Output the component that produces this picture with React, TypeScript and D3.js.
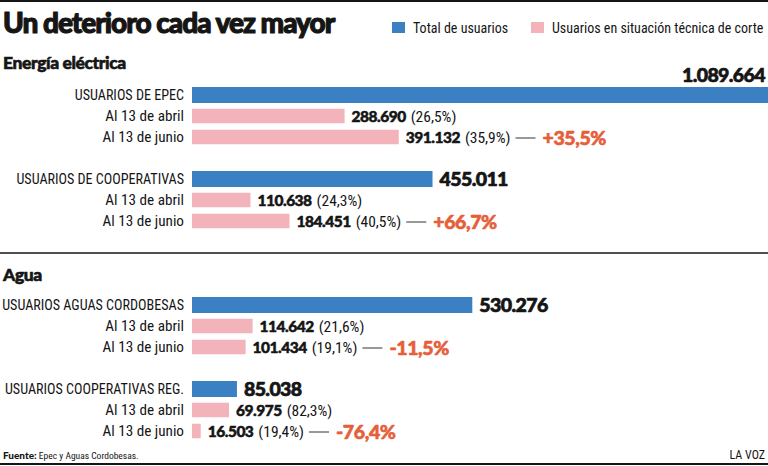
import React, { useEffect, useRef } from "react";
import * as d3 from "d3";

const W = 768;
const H = 466;

const title = "Un deterioro cada vez mayor";
const legendLabels = ["Total de usuarios", "Usuarios en situación técnica de corte"];
const sectionNames = ["Energía eléctrica", "Agua"];
const groupSection = [0, 0, 1, 1];
const groupLabels = [
  "USUARIOS DE EPEC",
  "USUARIOS DE COOPERATIVAS",
  "USUARIOS AGUAS CORDOBESAS",
  "USUARIOS COOPERATIVAS REG.",
];
const dateLabels = ["Al 13 de abril", "Al 13 de junio"];
const totals = [1089664, 455011, 530276, 85038];
const cutApril = [288690, 110638, 114642, 69975];
const cutJune = [391132, 184451, 101434, 16503];
const sourceLabel = "Fuente:";
const sourceText = " Epec y Aguas Cordobesas.";
const brand = "LA VOZ";

const BLUE = "#3b80c3";
const PINK = "#f3b3ba";
const ORANGE = "#e5603a";
const INK = "#151515";

const LABEL_FONT = "'Liberation Sans Narrow', 'Roboto Condensed', Roboto, sans-serif";
const BOLD_FONT = "Lato, 'Open Sans', sans-serif";

const es = d3.formatLocale({ decimal: ",", thousands: ".", grouping: [3], currency: ["$", ""] });
const fmtInt = es.format(",d");
const fmtPct = es.format(".1f");

export default function App() {
  const ref = useRef<SVGSVGElement | null>(null);

  useEffect(() => {
    const svg = d3.select(ref.current);
    svg.selectAll("*").remove();

    svg.append("rect").attr("width", W).attr("height", H).attr("fill", "#fff");

    // frame lines
    svg.append("line").attr("x1", 0).attr("x2", W).attr("y1", 1).attr("y2", 1).attr("stroke", INK).attr("stroke-width", 2);
    svg.append("line").attr("x1", 0).attr("x2", W).attr("y1", 464).attr("y2", 464).attr("stroke", INK).attr("stroke-width", 2);
    svg.append("line").attr("x1", 0).attr("x2", W).attr("y1", 253).attr("y2", 253).attr("stroke", INK).attr("stroke-width", 1.5);

    // title
    svg.append("text")
      .attr("x", 3).attr("y", 33)
      .attr("font-family", BOLD_FONT).attr("font-weight", 900)
      .attr("font-size", 28).attr("letter-spacing", -1)
      .attr("stroke", INK).attr("stroke-width", 1.1).attr("stroke-linejoin", "round")
      .attr("fill", INK).text(title);

    // legend
    const legendX = [392, 531];
    const legendColors = [BLUE, PINK];
    legendLabels.forEach((l, i) => {
      svg.append("rect").attr("x", legendX[i]).attr("y", 22).attr("width", 13).attr("height", 11).attr("fill", legendColors[i]);
      svg.append("text").attr("x", legendX[i] + 21).attr("y", 33)
        .attr("font-family", LABEL_FONT).attr("font-size", 14).attr("fill", INK).text(l);
    });

    // sections
    const sectionTitleY = [69, 281];
    sectionNames.forEach((s, i) => {
      svg.append("text").attr("x", 3).attr("y", sectionTitleY[i])
        .attr("font-family", BOLD_FONT).attr("font-weight", 900).attr("font-size", 17.5)
        .attr("letter-spacing", -0.4)
        .attr("stroke", INK).attr("stroke-width", 0.6).attr("stroke-linejoin", "round")
        .attr("fill", INK).text(s);
    });

    const x = d3.scaleLinear().domain([0, d3.max(totals) as number]).range([192, 768]);
    const rowStep = d3.scaleLinear().domain([0, 1]).range([0, 21]);
    const sectionTop = d3.scaleLinear().domain([0, 1]).range([95, 305]);
    const firstInSection = (g: number) => groupSection.indexOf(groupSection[g]);
    const rowY = (g: number, r: number) =>
      sectionTop(groupSection[g]) + (g - firstInSection(g)) * rowStep(4) + rowStep(r);

    totals.forEach((total, g) => {
      const cuts = [cutApril[g], cutJune[g]];
      const labels = [groupLabels[g], ...dateLabels];
      const values = [total, ...cuts];

      values.forEach((v, r) => {
        const cy = rowY(g, r);
        const h = r === 0 ? 16 : 14.5;
        svg.append("rect")
          .attr("x", x(0)).attr("y", cy - h / 2)
          .attr("width", Math.max(0, Math.min(x(v), W) - x(0))).attr("height", h)
          .attr("fill", r === 0 ? BLUE : PINK);

        svg.append("text").attr("x", 184).attr("y", cy + 5)
          .attr("text-anchor", "end")
          .attr("font-family", LABEL_FONT).attr("font-size", r === 0 ? 14.1 : 15.2)
          .attr("fill", INK).text(labels[r]);
      });

      // total value
      const tv = svg.append("text")
        .attr("font-family", BOLD_FONT).attr("font-weight", 900).attr("font-size", 19.5)
        .attr("letter-spacing", -0.6)
        .attr("stroke", INK).attr("stroke-width", 0.7).attr("stroke-linejoin", "round")
        .attr("fill", INK).text(fmtInt(total));
      const tvW = (tv.node() as SVGTextElement).getComputedTextLength();
      if (x(total) + 8 + tvW > W - 2) {
        tv.attr("x", W - 3).attr("y", rowY(g, 0) - 13).attr("text-anchor", "end");
      } else {
        tv.attr("x", x(total) + 7).attr("y", rowY(g, 0) + 7);
      }

      // cut values
      cuts.forEach((c, k) => {
        const r = k + 1;
        const cy = rowY(g, r);
        const t = svg.append("text").attr("x", x(c) + 7).attr("y", cy + 5.5).attr("fill", INK);
        t.append("tspan").attr("font-family", BOLD_FONT).attr("font-weight", 900)
          .attr("font-size", 15.5).attr("letter-spacing", -0.5)
          .attr("stroke", INK).attr("stroke-width", 0.5).attr("stroke-linejoin", "round")
          .text(fmtInt(c));
        t.append("tspan").attr("font-family", LABEL_FONT).attr("font-size", 15.5)
          .attr("dx", 5).text(`(${fmtPct((c / total) * 100)}%)`);
        if (k === 1) {
          const bb = (t.node() as SVGTextElement).getBBox();
          const lx = bb.x + bb.width + 5;
          svg.append("line").attr("x1", lx).attr("x2", lx + 20).attr("y1", cy + 1).attr("y2", cy + 1)
            .attr("stroke", "#333").attr("stroke-width", 1);
          const change = (c / cuts[0] - 1) * 100;
          const sign = change >= 0 ? "+" : "-";
          svg.append("text").attr("x", lx + 27).attr("y", cy + 7.5)
            .attr("font-family", BOLD_FONT).attr("font-weight", 900).attr("font-size", 19.5)
            .attr("letter-spacing", -0.4)
            .attr("stroke", ORANGE).attr("stroke-width", 0.6).attr("stroke-linejoin", "round")
            .attr("fill", ORANGE).text(`${sign}${fmtPct(Math.abs(change))}%`);
        }
      });
    });

    // footer
    const ft = svg.append("text").attr("x", 3).attr("y", 459).attr("fill", INK);
    ft.append("tspan").attr("font-family", BOLD_FONT).attr("font-weight", 900).attr("font-size", 10).text(sourceLabel);
    ft.append("tspan").attr("font-family", LABEL_FONT).attr("font-size", 9.5).text(sourceText);
    svg.append("text").attr("x", 765).attr("y", 459).attr("text-anchor", "end")
      .attr("font-family", LABEL_FONT).attr("font-size", 12).attr("fill", INK).text(brand);
  }, []);

  return (
    <svg
      ref={ref}
      width={W}
      height={H}
      viewBox={`0 0 ${W} ${H}`}
      style={{ position: "absolute", left: 0, top: 0, display: "block" }}
    />
  );
}
